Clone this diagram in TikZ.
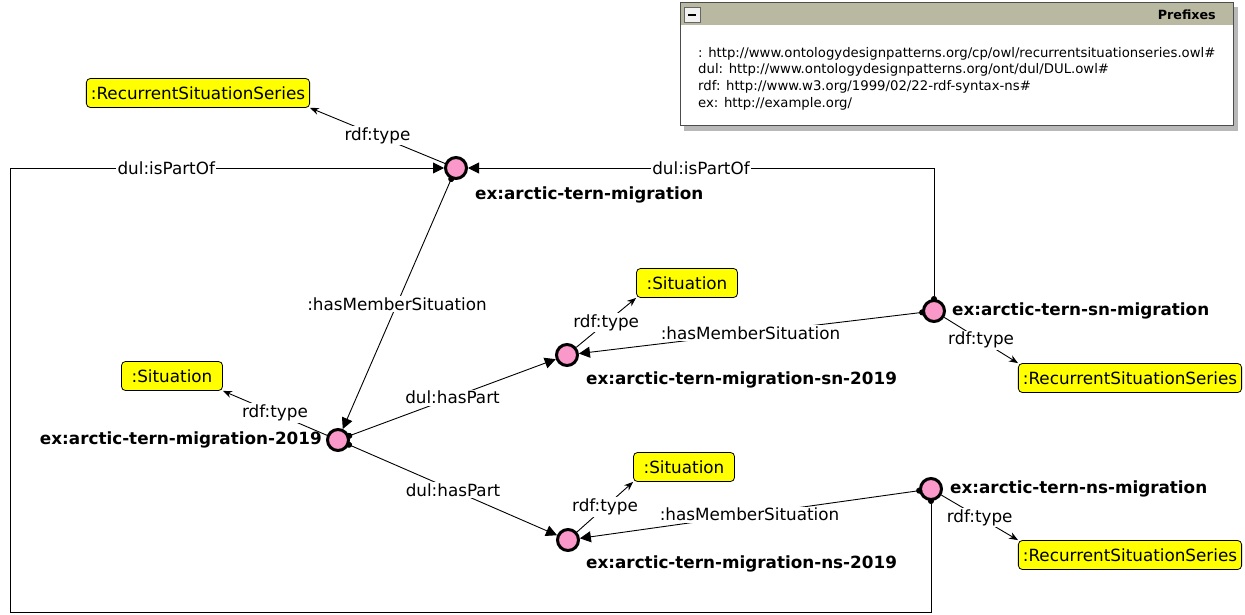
\documentclass[tikz,border=0pt]{standalone}
\usepackage{fontspec}
\setmainfont{DejaVu Sans}
\usetikzlibrary{arrows.meta}
\definecolor{indiv}{RGB}{250,152,202}
\definecolor{hdrcol}{RGB}{185,184,160}
\definecolor{clsyel}{RGB}{255,255,0}
\newcommand\lblsize{\fontsize{16.8}{20}\selectfont}
\newcommand\pfxsize{\fontsize{13.25}{16.6}\selectfont}
\begin{document}
\begin{tikzpicture}[x=1pt,y=-1pt,
  ind/.style={circle, draw=black, line width=3pt, fill=indiv, minimum size=21pt, inner sep=0pt, outer sep=1.5pt},
  cls/.style={draw=black, line width=0.8pt, fill=clsyel, rounded corners=4pt, minimum width=101pt, minimum height=29pt, inner xsep=4.5pt, inner ysep=0pt, font=\lblsize},
  iname/.style={font=\lblsize\bfseries, inner sep=0pt},
  lbl/.style={fill=white, inner sep=1.5pt, font=\lblsize},
  objedge/.style={line width=0.9pt, {Circle[length=6pt]}-{Triangle[length=11pt,width=11pt]}, shorten <=-3pt},
  typeedge/.style={line width=0.9pt, -{Stealth[length=9pt,width=7pt]}}
]
\useasboundingbox (0,0) rectangle (1245,615);
\fill[white] (0,0) rectangle (1245,615);

% prefixes box
\fill[black!28] (684,7) rectangle (1238,131);
\draw[fill=white, draw=black!70, line width=1pt] (680,3) rectangle (1233,126);
\fill[hdrcol] (680.5,3.5) rectangle (1232.5,25);
\node[draw=black!60, fill=black!5, minimum width=16pt, minimum height=15pt, inner sep=0pt, line width=0.6pt] (btn) at (692,15) {};
\draw[line width=2pt] ([xshift=-4pt]btn.center) -- ([xshift=4pt]btn.center);
\node[anchor=east, font=\fontsize{12.7}{15}\selectfont\bfseries, inner sep=0pt] (ptitle) at (1216,15) {Prefixes};
\node[anchor=north west, align=left, font=\pfxsize, inner sep=0pt] (ptext) at (698,47)
  {: http://www.ontologydesignpatterns.org/cp/owl/recurrentsituationseries.owl\#\\
   dul: http://www.ontologydesignpatterns.org/ont/dul/DUL.owl\#\\
   rdf: http://www.w3.org/1999/02/22-rdf-syntax-ns\#\\
   ex: http://example.org/};

% individuals
\node[ind] (A) at (456,168) {};
\node[ind] (B) at (338,440) {};
\node[ind] (C) at (567,355) {};
\node[ind] (D) at (568,540) {};
\node[ind] (E) at (934,311) {};
\node[ind] (F) at (931,489) {};

\node[iname, anchor=west] (nA) at (475,195) {ex:arctic-tern-migration};
\node[iname, anchor=east] (nB) at (322,440) {ex:arctic-tern-migration-2019};
\node[iname, anchor=west] (nC) at (586,380) {ex:arctic-tern-migration-sn-2019};
\node[iname, anchor=west] (nD) at (586,564) {ex:arctic-tern-migration-ns-2019};
\node[iname, anchor=west] (nE) at (952,311) {ex:arctic-tern-sn-migration};
\node[iname, anchor=west] (nF) at (950,489) {ex:arctic-tern-ns-migration};

% classes
\node[cls] (rss1) at (198,93) {:RecurrentSituationSeries};
\node[cls] (sit0) at (172,376) {:Situation};
\node[cls] (sit1) at (687,283) {:Situation};
\node[cls] (sit2) at (684,467) {:Situation};
\node[cls] (rss2) at (1130,378) {:RecurrentSituationSeries};
\node[cls] (rss3) at (1130,555) {:RecurrentSituationSeries};

% type edges
\draw[typeedge] (A) -- node[lbl]{rdf:type} (rss1.south east);
\draw[typeedge] (B) -- node[lbl]{rdf:type} (sit0.south east);
\draw[typeedge] (C) -- node[lbl]{rdf:type} (sit1.south west);
\draw[typeedge] (D) -- node[lbl]{rdf:type} (sit2.south west);
\draw[typeedge] (E) -- node[lbl]{rdf:type} (rss2.north west);
\draw[typeedge] (F) -- node[lbl]{rdf:type} (rss3.north west);

% object property edges
\draw[objedge] (A) -- node[lbl]{:hasMemberSituation} (B);
\draw[objedge] (B) -- node[lbl]{dul:hasPart} (C);
\draw[objedge] (B) -- node[lbl]{dul:hasPart} (D);
\draw[objedge] (E) -- node[lbl]{:hasMemberSituation} (C);
\draw[objedge] (F) -- node[lbl]{:hasMemberSituation} (D);
\draw[objedge] (E) |- node[lbl,pos=0.75]{dul:isPartOf} (A);
\coordinate (l1) at (931,612);
\coordinate (l2) at (10,612);
\coordinate (l3) at (10,168);
\draw[objedge] (F) -- (l1) -- (l2) -- (l3) -- node[lbl,pos=0.36]{dul:isPartOf} (A);
\end{tikzpicture}
\end{document}
